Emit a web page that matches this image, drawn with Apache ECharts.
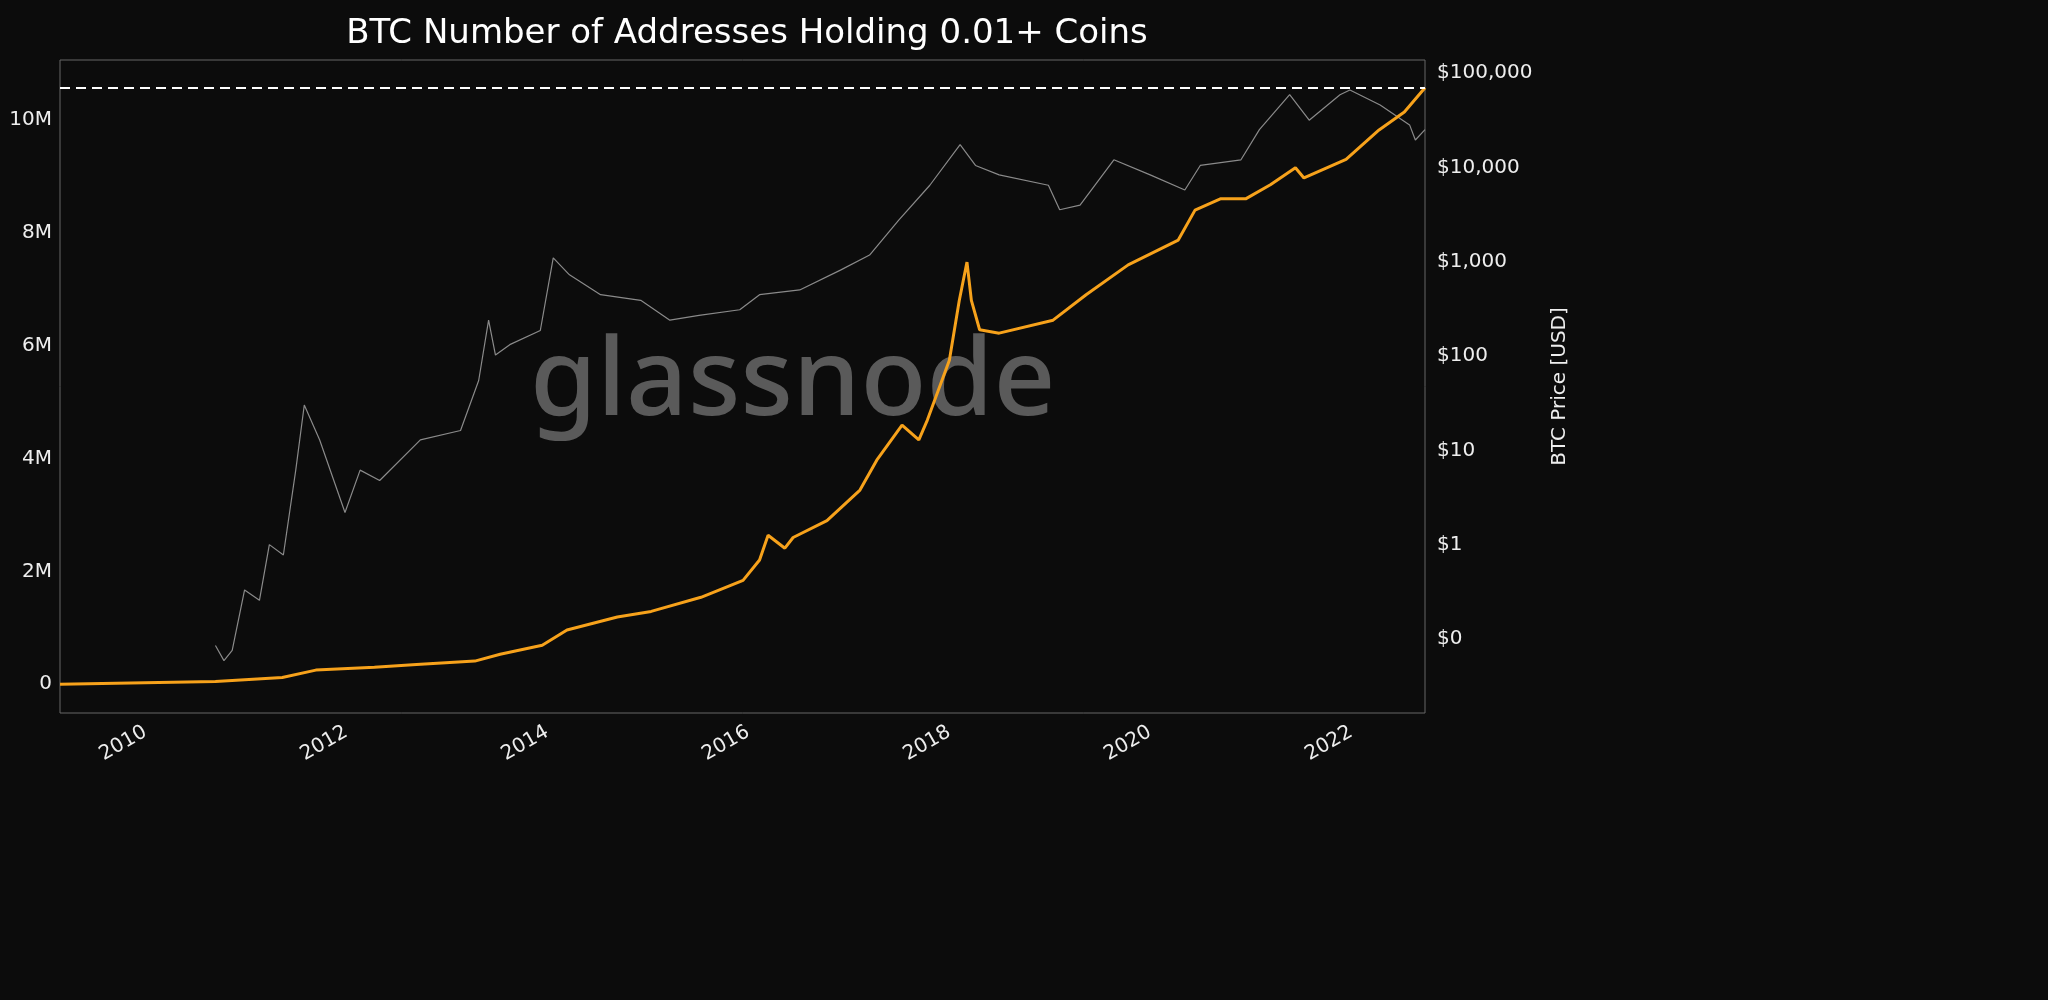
<!DOCTYPE html>
<html><head><meta charset="utf-8">
<script src="https://cdn.jsdelivr.net/npm/echarts@6/dist/echarts.min.js"></script>
<style>html,body{margin:0;background:#0c0c0c}#c{width:2048px;height:1000px}</style>
</head><body><div id="c"></div>
<script>
const addrDates=['2009-03-15','2010-10-01','2011-06-01','2011-10-01','2012-05-01','2012-10-01','2013-05-01','2013-08-01','2014-01-01','2014-04-01','2014-10-01','2015-02-01','2015-08-01','2016-01-01','2016-03-01','2016-04-01','2016-06-01','2016-07-01','2016-11-01','2017-03-01','2017-05-01','2017-08-01','2017-10-01','2017-11-01','2018-01-20','2018-02-25','2018-03-25','2018-04-10','2018-05-10','2018-07-20','2019-02-01','2019-06-01','2019-11-01','2020-05-01','2020-07-01','2020-10-01','2021-01-01','2021-04-01','2021-07-01','2021-08-01','2022-01-01','2022-05-01','2022-08-01','2022-10-15'];
const addrMillions=[0,0.05,0.12,0.25,0.3,0.35,0.41,0.53,0.69,0.96,1.19,1.29,1.54,1.84,2.2,2.64,2.41,2.6,2.9,3.44,3.97,4.59,4.33,4.68,5.74,6.8,7.48,6.8,6.28,6.22,6.45,6.9,7.43,7.87,8.4,8.6,8.6,8.85,9.15,8.97,9.3,9.82,10.14,10.57];
const priceDates=['2010-10-01','2010-11-01','2010-12-01','2011-01-15','2011-03-10','2011-04-15','2011-06-05','2011-07-20','2011-08-20','2011-10-15','2012-01-15','2012-03-10','2012-05-20','2012-10-15','2013-03-10','2013-05-15','2013-06-20','2013-07-15','2013-09-05','2013-12-25','2014-02-10','2014-04-10','2014-08-01','2014-12-25','2015-04-10','2015-07-25','2015-12-20','2016-03-01','2016-07-25','2016-12-20','2017-04-05','2017-07-20','2017-11-10','2018-02-28','2018-04-25','2018-07-20','2019-01-15','2019-02-25','2019-05-10','2019-09-10','2020-01-20','2020-05-25','2020-07-20','2020-12-15','2021-02-20','2021-06-10','2021-08-20','2021-12-10','2022-01-15','2022-05-05','2022-08-20','2022-09-10','2022-10-15'];
const priceLog10=[-1.07,-1.23,-1.12,-0.48,-0.59,0.0,-0.11,0.79,1.48,1.11,0.34,0.79,0.68,1.11,1.21,1.74,2.38,2.01,2.12,2.27,3.04,2.86,2.65,2.59,2.38,2.43,2.49,2.65,2.70,2.91,3.07,3.44,3.81,4.24,4.02,3.92,3.81,3.55,3.60,4.08,3.92,3.76,4.02,4.08,4.40,4.77,4.50,4.77,4.82,4.66,4.45,4.29,4.40];
const yearLabels=['2010','2012','2014','2016','2018','2020','2022'];
const athMillions=10.57;
const ch=echarts.init(document.getElementById('c'));
const txt={color:'#eee',fontSize:20,fontFamily:'DejaVu Sans'};
const tMin=new Date('2009-03-15').getTime(), tMax=new Date('2022-10-15').getTime();
ch.setOption({
 backgroundColor:'#0c0c0c',animation:false,
 title:{text:'BTC Number of Addresses Holding 0.01+ Coins',left:742,top:12,textAlign:'center',textStyle:{color:'#fff',fontSize:34,fontWeight:'normal',fontFamily:'DejaVu Sans'}},
 graphic:[{type:'text',left:530,top:330,style:{text:'glassnode',fill:'#5a5a5a',font:'500 108px "Noto Sans"'},z:0}],
 grid:{left:60,right:623,top:60,bottom:287,show:true,borderColor:'#666',borderWidth:1,backgroundColor:'transparent'},
 xAxis:[{type:'time',min:tMin,max:tMax,splitLine:{show:false},axisLine:{show:false},axisTick:{show:false},axisLabel:{show:false}},
  {type:'category',position:'bottom',data:yearLabels,boundaryGap:false,show:false}],
 yAxis:[{type:'value',min:-0.51,max:11.06,splitNumber:6,splitLine:{show:false},axisLine:{show:false},axisTick:{show:false},
  axisLabel:Object.assign({},txt,{showMaxLabel:false,showMinLabel:false,formatter:v=>v===0?'0':(v>0&&Number.isInteger(v)?v+'M':'')})},
 {type:'value',position:'right',min:-1.785,max:5.138,splitNumber:7,splitLine:{show:false},axisLine:{show:false},axisTick:{show:false},
  name:'BTC Price [USD]',nameLocation:'middle',nameGap:125,nameRotate:90,nameTextStyle:txt,
  axisLabel:Object.assign({},txt,{margin:12,showMaxLabel:false,showMinLabel:false,formatter:v=>{if(Math.abs(v-Math.round(v))>1e-6)return'';const r=Math.round(v);return r<0?'$0':'$'+Math.pow(10,r).toLocaleString('en-US')}})}],
 series:[
  {type:'line',yAxisIndex:1,symbol:'none',data:priceDates.map((d,i)=>[d,priceLog10[i]]),lineStyle:{color:'#8a8a8a',width:1.2},z:2},
  {type:'line',yAxisIndex:0,symbol:'none',data:addrDates.map((d,i)=>[d,addrMillions[i]]),lineStyle:{color:'#f7a21b',width:3},z:3,
   markLine:{symbol:'none',silent:true,label:{show:false},lineStyle:{color:'#fff',type:[10,6],width:2},data:[{yAxis:athMillions}]}}
 ]
});
// year labels placed through the time axis scale
const g=yearLabels.map(y=>{const p=ch.convertToPixel({xAxisIndex:0},new Date(y+'-01-01').getTime());
 return {type:'text',x:p,y:722,rotation:Math.PI/6,style:{text:y,fill:'#eee',font:'20px "DejaVu Sans"',align:'right',verticalAlign:'top'}};});
ch.setOption({graphic:[{type:'text',left:530,top:330,style:{text:'glassnode',fill:'#5a5a5a',font:'500 108px "Noto Sans"'},z:0}].concat(g)});
</script></body></html>
